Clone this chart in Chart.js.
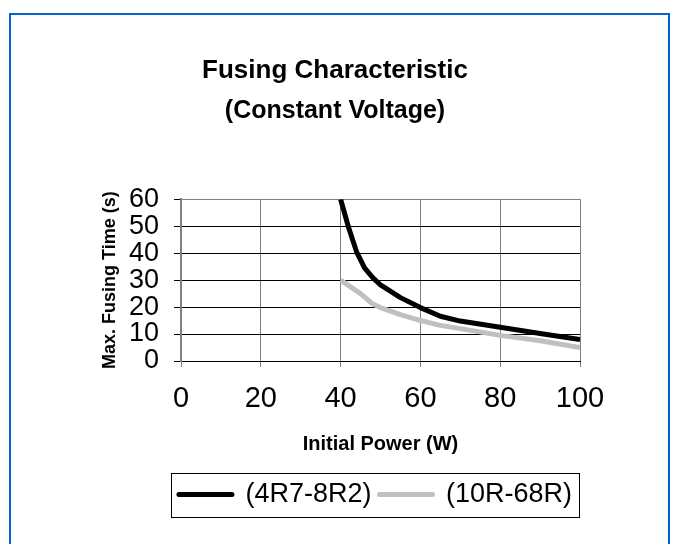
<!DOCTYPE html>
<html>
<head>
<meta charset="utf-8">
<script src="https://cdn.jsdelivr.net/npm/chart.js@4"></script>
<style>
  html, body { margin: 0; padding: 0; background: #fff; }
  #wrap { position: relative; width: 677px; height: 544px; }
  canvas { position: absolute; left: 0; top: 0; }
</style>
</head>
<body>
<div id="wrap"><canvas id="chart" width="677" height="544"></canvas></div>
<script>
// Data
const seriesNames = ['(4R7-8R2)', '(10R-68R)'];
const powerA = [40, 42, 44, 46, 48, 50, 55, 60, 65, 70, 80, 90, 100];
const timeA = [60, 49.5, 40.5, 34.5, 31, 28.2, 23.5, 19.8, 16.6, 14.8, 12.5, 10.2, 8];
const powerB = [40, 45, 48, 50, 55, 60, 65, 70, 80, 90, 100];
const timeB = [30, 25, 21.2, 19.8, 17.2, 15, 13.2, 12, 9.5, 7.5, 5];
const xTicks = [0, 20, 40, 60, 80, 100];
const yTicks = [0, 10, 20, 30, 40, 50, 60];

const FONT = "'Liberation Sans', Arial, sans-serif";

function toPoints(xs, ys) {
  return xs.map((x, i) => ({ x: x, y: ys[i] }));
}

// Outer blue frame and the box round the legend
const framePlugin = {
  id: 'frame',
  afterDraw(chart) {
    const ctx = chart.ctx;
    ctx.save();
    ctx.strokeStyle = '#0066cc';
    ctx.lineWidth = 2;
    ctx.strokeRect(10, 14, 659, 540);

    const boxes = chart.legend.legendHitBoxes;
    if (boxes && boxes.length) {
      const left = Math.min(...boxes.map(b => b.left)) - 8;
      const right = Math.max(...boxes.map(b => b.left + b.width)) + 7;
      const mid = boxes[0].top + boxes[0].height / 2;
      ctx.strokeStyle = '#000';
      ctx.lineWidth = 1;
      ctx.strokeRect(Math.round(left) + 0.5, Math.round(mid - 22) + 0.5, Math.round(right - left), 44);
    }
    ctx.restore();
  }
};

new Chart(document.getElementById('chart'), {
  type: 'scatter',
  data: {
    datasets: [
      {
        label: seriesNames[0],
        data: toPoints(powerA, timeA),
        showLine: true,
        borderColor: '#000000',
        backgroundColor: '#000000',
        borderWidth: 5,
        pointRadius: 0,
        tension: 0,
        borderJoinStyle: 'round',
      },
      {
        label: seriesNames[1],
        data: toPoints(powerB, timeB),
        showLine: true,
        borderColor: '#c0c0c0',
        backgroundColor: '#c0c0c0',
        borderWidth: 5,
        pointRadius: 0,
        tension: 0,
        borderJoinStyle: 'round',
      },
    ],
  },
  options: {
    responsive: false,
    animation: false,
    devicePixelRatio: 1,
    layout: {
      padding: { left: 90, right: 97, top: 0, bottom: 26 },
    },
    plugins: {
      title: {
        display: true,
        text: 'Fusing Characteristic',
        color: '#000',
        font: { family: FONT, size: 26, weight: 'bold' },
        padding: { top: 55, bottom: 10 },
      },
      subtitle: {
        display: true,
        text: '(Constant Voltage)',
        color: '#000',
        font: { family: FONT, size: 25, weight: 'bold' },
        padding: { top: 0, bottom: 73 },
      },
      legend: {
        position: 'bottom',
        align: 'end',
        labels: {
          color: '#000',
          font: { family: FONT, size: 27 },
          boxWidth: 53,
          boxHeight: 0,
          padding: 8,
        },
      },
      tooltip: { enabled: false },
    },
    scales: {
      x: {
        type: 'linear',
        min: 0,
        max: 100,
        afterBuildTicks(scale) {
          scale.ticks = xTicks.map(v => ({ value: v }));
        },
        afterFit(scale) {
          scale.height = 112;
        },
        ticks: {
          color: '#000',
          font: { family: FONT, size: 29 },
          padding: 15,
          maxRotation: 0,
          autoSkip: false,
        },
        grid: {
          color: '#808080',
          tickColor: '#808080',
          tickLength: 6,
          lineWidth: 1,
        },
        border: { color: '#000', width: 1 },
        title: {
          display: true,
          text: 'Initial Power (W)',
          color: '#000',
          font: { family: FONT, size: 20, weight: 'bold' },
          padding: { top: 0, bottom: 17 },
        },
      },
      y: {
        type: 'linear',
        min: 0,
        max: 60,
        afterBuildTicks(scale) {
          scale.ticks = yTicks.map(v => ({ value: v }));
        },
        afterFit(scale) {
          scale.width = 91;
        },
        ticks: {
          color: '#000',
          font: { family: FONT, size: 27 },
          padding: 15,
          autoSkip: false,
        },
        grid: {
          color: ctx => (ctx.tick && ctx.tick.value === 60 ? '#808080' : '#000'),
          tickColor: '#000',
          tickLength: 7,
          lineWidth: 1,
        },
        border: { color: '#808080', width: 2 },
        title: {
          display: true,
          text: 'Max. Fusing Time (s)',
          color: '#000',
          font: { family: FONT, size: 18, weight: 'bold' },
          padding: { top: 9, bottom: 0 },
        },
      },
    },
  },
  plugins: [framePlugin],
});
</script>
</body>
</html>
